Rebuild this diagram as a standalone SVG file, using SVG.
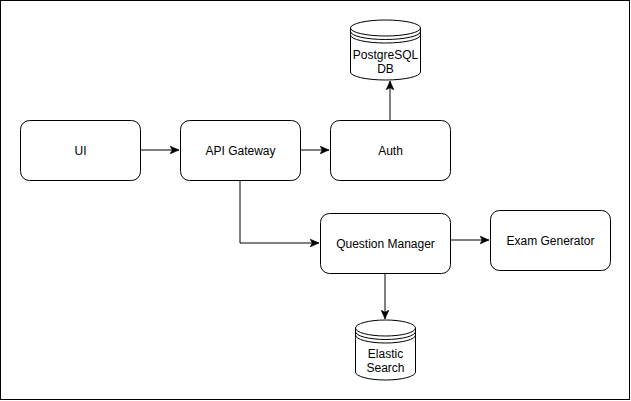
<svg xmlns="http://www.w3.org/2000/svg" width="631" height="401" viewBox="0 0 631 401">
<defs>
<style>
.box{fill:#fff;stroke:#000;stroke-width:1}
.db{fill:#fff;stroke:#000;stroke-width:1}
.ln{fill:none;stroke:#000;stroke-width:1}
.edge{fill:none;stroke:#000;stroke-width:1;marker-end:url(#arr)}
text{font-family:"Liberation Sans",Arial,Helvetica,sans-serif;font-size:12px;fill:#000;text-anchor:middle}
</style>
<marker id="arr" viewBox="0 0 10 8" refX="9" refY="4" markerWidth="10" markerHeight="8" markerUnits="userSpaceOnUse" orient="auto">
<path d="M0,0 L9,4 L0,8 L2.2,4 Z" fill="#000" stroke="#000" stroke-width="0.5"/>
</marker>
</defs>
<rect x="0.5" y="0.5" width="629" height="399" fill="#fff" stroke="#000" stroke-width="1"/>
<g id="connectors">
<path class="edge" d="M140,150 H179"/>
<path class="edge" d="M300,150 H329"/>
<path class="edge" d="M390,120 V81"/>
<path class="edge" d="M240,180 V243 H319"/>
<path class="edge" d="M450,240 H489"/>
<path class="edge" d="M385,273 V319"/>
</g>
<g id="ui">
<rect class="box" x="20.5" y="120.5" width="120" height="60" rx="9"/>
<text x="80.5" y="154.5">UI</text>
</g>
<g id="api-gateway">
<rect class="box" x="180.5" y="120.5" width="120" height="60" rx="9"/>
<text x="240.5" y="154.5">API Gateway</text>
</g>
<g id="auth">
<rect class="box" x="330.5" y="120.5" width="120" height="60" rx="9"/>
<text x="390.5" y="154.5">Auth</text>
</g>
<g id="question-manager">
<rect class="box" x="320.5" y="213.5" width="130" height="60" rx="9"/>
<text x="385.5" y="247.5">Question Manager</text>
</g>
<g id="exam-generator">
<rect class="box" x="490.5" y="210.5" width="120" height="60" rx="9"/>
<text x="550.5" y="244.5">Exam Generator</text>
</g>
<g id="postgresql-db">
<path class="db" d="M350.5,28 A35,8 0 0 1 420.5,28 V72 A35,8 0 0 1 350.5,72 Z"/>
<path class="ln" d="M350.5,28 A35,8 0 0 0 420.5,28"/>
<path class="ln" d="M350.5,31.5 A35,8 0 0 0 420.5,31.5"/>
<path class="ln" d="M350.5,35 A35,8 0 0 0 420.5,35"/>
<text x="385.5" y="59">PostgreSQL</text>
<text x="385.5" y="73">DB</text>
</g>
<g id="elastic-search">
<path class="db" d="M355.5,328 A30,8 0 0 1 415.5,328 V372 A30,8 0 0 1 355.5,372 Z"/>
<path class="ln" d="M355.5,328 A30,8 0 0 0 415.5,328"/>
<path class="ln" d="M355.5,331.5 A30,8 0 0 0 415.5,331.5"/>
<path class="ln" d="M355.5,335 A30,8 0 0 0 415.5,335"/>
<text x="385.5" y="358">Elastic</text>
<text x="385.5" y="372">Search</text>
</g>
</svg>
